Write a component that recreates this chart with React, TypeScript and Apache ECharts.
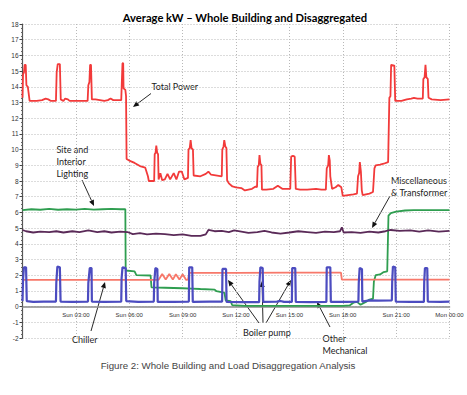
import React, { useEffect, useRef } from "react";
import * as echarts from "echarts";

// Hours since Sunday 00:00, kW
const xTickLabels = ["", "Sun 03:00", "Sun 06:00", "Sun 09:00", "Sun 12:00", "Sun 15:00", "Sun 18:00", "Sun 21:00", "Mon 00:00"];

const totalPower: [number, number][] = [
  [0, 13.3], [0.03, 14.8], [0.08, 14.9], [0.12, 15.4], [0.18, 15.4], [0.22, 14.1], [0.3, 14.0], [0.4, 13.1],
  [0.8, 13.1], [1.1, 13.15], [1.3, 13.25], [1.45, 13.2], [1.6, 13.1], [1.88, 13.1], [1.92, 14.9], [1.98, 15.45],
  [2.1, 15.45], [2.15, 13.2], [2.3, 13.1], [2.4, 13.25], [2.55, 13.2], [2.65, 13.1], [3.66, 13.1], [3.7, 14.1],
  [3.76, 14.3], [3.8, 15.4], [3.85, 15.4], [3.9, 13.2], [4.1, 13.2], [4.6, 13.1], [4.8, 13.15], [4.95, 13.25],
  [5.1, 13.15], [5.55, 13.15], [5.58, 14.2], [5.62, 15.5], [5.66, 15.5], [5.68, 13.9], [5.78, 13.8], [5.82, 13.4],
  [5.85, 9.4], [6.0, 9.3], [6.3, 9.15], [6.6, 8.95], [6.9, 8.85], [7.05, 8.3], [7.1, 8.0], [7.4, 8.0],
  [7.43, 9.7], [7.48, 9.8], [7.52, 10.25], [7.57, 9.8], [7.62, 9.7], [7.65, 8.1], [7.75, 8.5], [7.85, 8.05],
  [8.0, 8.1], [8.15, 8.45], [8.3, 8.1], [8.5, 8.5], [8.65, 8.1], [8.8, 8.6], [8.95, 8.6], [9.1, 8.1],
  [9.3, 8.2], [9.33, 10.0], [9.4, 10.1], [9.45, 10.6], [9.5, 10.1], [9.58, 10.0], [9.62, 8.35], [10.0, 8.3],
  [10.3, 8.45], [10.45, 8.6], [10.6, 8.4], [11.2, 8.3], [11.23, 10.0], [11.3, 10.2], [11.34, 10.6], [11.4, 10.2],
  [11.46, 10.1], [11.5, 8.05], [11.6, 7.85], [11.8, 7.65], [12.0, 7.6], [12.3, 7.55], [12.5, 7.4], [12.7, 7.45],
  [12.9, 7.5], [13.1, 7.65], [13.18, 7.6], [13.22, 8.9], [13.28, 9.0], [13.32, 9.65], [13.37, 9.1], [13.43, 9.0],
  [13.46, 7.45], [13.7, 7.45], [14.1, 7.5], [14.35, 7.7], [14.6, 7.5], [15.05, 7.5], [15.1, 9.55], [15.2, 9.6],
  [15.3, 9.55], [15.36, 7.5], [15.6, 7.45], [16.0, 7.45], [16.5, 7.5], [16.8, 7.45], [17.05, 7.45], [17.1, 8.8],
  [17.18, 9.0], [17.22, 9.65], [17.27, 9.3], [17.3, 8.3], [17.4, 7.5], [17.6, 7.6], [17.75, 7.75], [17.92, 7.6],
  [18.0, 7.05], [18.3, 7.1], [18.6, 7.15], [18.8, 7.2], [18.86, 8.3], [18.92, 8.5], [18.96, 9.2], [19.02, 8.6],
  [19.07, 7.4], [19.12, 7.1], [19.3, 7.15], [19.5, 7.2], [19.7, 7.3], [19.78, 8.8], [19.85, 9.0], [20.1, 9.05],
  [20.3, 9.1], [20.55, 9.2], [20.62, 13.3], [20.68, 13.4], [20.72, 15.4], [20.9, 15.35], [20.95, 13.1], [21.3, 13.1],
  [21.6, 13.2], [21.85, 13.25], [22.0, 13.3], [22.2, 13.25], [22.5, 13.25], [22.53, 14.5], [22.6, 14.6], [22.65, 15.4],
  [22.7, 14.6], [22.78, 14.5], [22.82, 13.3], [23.0, 13.2], [23.5, 13.15], [24, 13.2],
];

const lighting: [number, number][] = [
  [0, 6.15], [0.5, 6.2], [1.0, 6.17], [1.5, 6.22], [2.0, 6.17], [2.5, 6.2], [3.0, 6.18], [3.5, 6.22],
  [4.0, 6.18], [4.5, 6.2], [5.0, 6.22], [5.5, 6.2], [5.78, 6.2], [5.8, 2.3], [6.3, 2.25], [6.4, 2.0],
  [7.2, 1.98], [7.25, 1.22], [8.0, 1.2], [9.0, 1.17], [9.5, 1.15], [10.0, 1.12], [10.8, 1.08], [10.9, 0.98],
  [11.25, 0.9], [11.35, 0.88], [11.42, 0.4], [11.7, 0.35], [11.78, 0.1], [12.5, 0.05], [14.0, 0.05], [16.0, 0.05],
  [18.0, 0.05], [18.4, 0.08], [18.6, 0.25], [18.8, 0.3], [19.0, 0.12], [19.3, 0.3], [19.5, 0.45], [19.7, 0.5],
  [19.75, 1.6], [19.85, 2.0], [20.1, 2.05], [20.3, 2.2], [20.5, 2.25], [20.57, 5.8], [20.7, 5.95], [21.0, 6.05],
  [21.5, 6.12], [22.0, 6.15], [24, 6.15],
];

const miscTransformer: [number, number][] = [
  [0, 4.88], [0.2, 4.8], [0.6, 4.72], [1.0, 4.78], [1.5, 4.75], [1.9, 4.8], [2.3, 4.72], [2.8, 4.8],
  [3.2, 4.75], [3.7, 4.85], [4.2, 4.75], [4.6, 4.8], [5.0, 4.72], [5.5, 4.78], [5.9, 4.75], [6.2, 4.62],
  [6.6, 4.68], [7.0, 4.6], [7.5, 4.65], [8.0, 4.62], [8.5, 4.55], [9.0, 4.6], [9.5, 4.5], [10.0, 4.5],
  [10.3, 4.6], [10.45, 4.88], [10.8, 4.8], [11.2, 4.82], [11.6, 4.75], [11.9, 4.85], [12.3, 4.78], [12.7, 4.7],
  [13.2, 4.75], [13.6, 4.82], [14.0, 4.72], [14.5, 4.65], [15.0, 4.72], [15.5, 4.8], [16.0, 4.75], [16.5, 4.7],
  [17.0, 4.78], [17.5, 4.75], [17.85, 4.8], [17.95, 5.05], [18.05, 4.72], [18.5, 4.75], [19.0, 4.7], [19.5, 4.78],
  [20.0, 4.72], [20.4, 4.8], [20.7, 4.88], [21.2, 4.82], [21.8, 4.85], [22.3, 4.78], [22.8, 4.85], [23.4, 4.78],
  [24, 4.82],
];

const chiller: [number, number][] = [
  [0, 1.7], [7.65, 1.7], [7.85, 2.08], [8.05, 1.72], [8.25, 2.08], [8.45, 1.72], [8.62, 2.06], [8.82, 1.72],
  [9.0, 2.06], [9.2, 1.7], [9.3, 1.72], [9.37, 2.15], [12, 2.15], [15, 2.17], [17.9, 2.17], [17.95, 1.72],
  [24, 1.72],
];

const boilerPump: [number, number][] = [
  [0, 0.35], [0.03, 1.7], [0.08, 2.5], [0.2, 2.5], [0.24, 0.35], [0.6, 0.3], [1.2, 0.32], [1.88, 0.32],
  [1.9, 1.5], [1.96, 2.55], [2.1, 2.5], [2.14, 0.32], [2.8, 0.3], [3.68, 0.32], [3.7, 1.5], [3.78, 2.45],
  [3.88, 2.45], [3.9, 0.32], [4.6, 0.3], [5.55, 0.32], [5.57, 1.8], [5.62, 2.5], [5.8, 2.45], [5.83, 0.35],
  [6.5, 0.3], [7.38, 0.32], [7.4, 1.5], [7.47, 2.45], [7.58, 2.4], [7.6, 0.3], [8.5, 0.3], [9.35, 0.32],
  [9.37, 2.5], [9.54, 2.5], [9.57, 0.3], [10.5, 0.32], [11.22, 0.32], [11.24, 2.4], [11.44, 2.4], [11.47, 0.3],
  [12.3, 0.28], [13.3, 0.28], [13.32, 1.6], [13.37, 2.5], [13.5, 2.45], [13.53, 0.3], [14.3, 0.32], [14.5, 0.36],
  [14.7, 0.3], [15.14, 0.3], [15.16, 2.45], [15.33, 2.45], [15.36, 0.3], [16.2, 0.28], [17.08, 0.3], [17.1, 2.5],
  [17.3, 2.5], [17.33, 0.3], [18.2, 0.3], [18.88, 0.32], [18.9, 1.5], [18.95, 2.45], [19.08, 2.4], [19.1, 0.32],
  [19.5, 0.4], [20.0, 0.38], [20.76, 0.4], [20.78, 1.6], [20.82, 2.55], [20.95, 2.5], [20.98, 0.32], [21.8, 0.3],
  [22.56, 0.3], [22.58, 1.6], [22.62, 2.45], [22.75, 2.45], [22.78, 0.32], [23.5, 0.3], [24, 0.32],
];

const TITLE = "Average kW \u2013 Whole Building and Disaggregated";
const CAPTION = "Figure 2: Whole Building and Load Disaggregation Analysis";

function arrow(x1: number, y1: number, x2: number, y2: number): any[] {
  const dx = x2 - x1;
  const dy = y2 - y1;
  const len = Math.sqrt(dx * dx + dy * dy);
  const ux = dx / len;
  const uy = dy / len;
  const hl = 6;
  const hw = 2.6;
  const bx = x2 - ux * hl;
  const by = y2 - uy * hl;
  return [
    { type: "line", silent: true, shape: { x1, y1, x2: bx, y2: by }, style: { stroke: "#111", lineWidth: 0.9 } },
    {
      type: "polygon",
      silent: true,
      shape: { points: [[x2, y2], [bx - uy * hw, by + ux * hw], [bx + uy * hw, by - ux * hw]] },
      style: { fill: "#111" },
    },
  ];
}

function label(text: string, x: number, y: number, align: string = "left"): any {
  return {
    type: "text",
    silent: true,
    x,
    y,
    style: {
      text,
      fill: "#1a1a1a",
      font: "9px Lato",
      lineHeight: 11.7,
      align,
      verticalAlign: "top",
    },
  };
}

export default function App() {
  const ref = useRef<HTMLDivElement>(null);
  useEffect(() => {
    if (!ref.current) return;
    const chart = echarts.init(ref.current, undefined, { renderer: "svg" });
    const lineSeries = (name: string, data: [number, number][], color: string, width: number) => ({
      name,
      type: "line",
      data,
      showSymbol: false,
      symbol: "none",
      lineStyle: { color, width },
      itemStyle: { color },
      z: 3,
    });
    const option: any = {
      animation: false,
      backgroundColor: "#ffffff",
      grid: { left: 22.5, right: 17.5, top: 24, bottom: 57, containLabel: false },
      xAxis: {
        type: "value",
        min: 0,
        max: 24,
        interval: 3,
        axisLine: { show: true, onZero: true, lineStyle: { color: "#8a8a8a", width: 1.6 } },
        axisTick: { show: false },
        axisLabel: {
          fontSize: 6,
          color: "#333",
          margin: -26,
          fontFamily: "Liberation Sans",
          formatter: (v: number) => xTickLabels[Math.round(v / 3)] || "",
        },
        splitLine: { show: true, lineStyle: { type: [1, 2], color: "#b8b8b8", width: 1 } },
      },
      yAxis: {
        type: "value",
        min: -2,
        max: 18,
        interval: 1,
        axisLine: { show: true, onZero: false, lineStyle: { color: "#555", width: 1.2 } },
        axisTick: { show: true, length: 3, lineStyle: { color: "#444" } },
        minorTick: { show: true, splitNumber: 4, length: 1.5, lineStyle: { color: "#666" } },
        axisLabel: { fontSize: 6.5, color: "#333", margin: 4, fontFamily: "Liberation Sans" },
        splitLine: { show: true, lineStyle: { type: [1, 2], color: "#b8b8b8", width: 1 } },
      },
      series: [
        lineSeries("Site and Interior Lighting / Other Mechanical", lighting, "#2f9e50", 1.8),
        lineSeries("Miscellaneous & Transformer", miscTransformer, "#5a2a58", 1.8),
        lineSeries("Chiller", chiller, "#f7786a", 1.8),
        lineSeries("Boiler pump", boilerPump, "#4c4cc0", 2.2),
        lineSeries("Total Power", totalPower, "#f23a3a", 1.8),
      ],
      graphic: [
        {
          type: "text",
          silent: true,
          x: 245,
          y: 17.5,
          style: { text: TITLE, fill: "#000", font: "bold 11.2px Lato", align: "center", verticalAlign: "middle" },
        },
        {
          type: "text",
          silent: true,
          x: 228,
          y: 365.5,
          style: { text: CAPTION, fill: "#444", font: "9.7px 'Liberation Sans'", align: "center", verticalAlign: "middle" },
        },
        label("Total Power", 151.5, 81),
        ...arrow(151, 93.5, 133, 107),
        label("Site and\nInterior\nLighting", 56.5, 144),
        ...arrow(82, 180, 94, 206),
        label("Miscellaneous\n& Transformer", 391, 175),
        ...arrow(390, 196, 372, 228),
        label("Chiller", 72, 333.5),
        ...arrow(91, 331, 105, 282),
        label("Boiler pump", 243, 327),
        ...arrow(259, 323, 228, 280),
        ...arrow(263, 323, 262, 281),
        ...arrow(266, 323, 291, 280),
        label("Other\nMechanical", 322.5, 333),
        ...arrow(330, 327, 317, 302),
      ],
    };
    chart.setOption(option);
    return () => chart.dispose();
  }, []);
  return (
    <div
      ref={ref}
      style={{ position: "absolute", left: 0, top: 0, width: 467, height: 395, background: "#fff" }}
    />
  );
}
